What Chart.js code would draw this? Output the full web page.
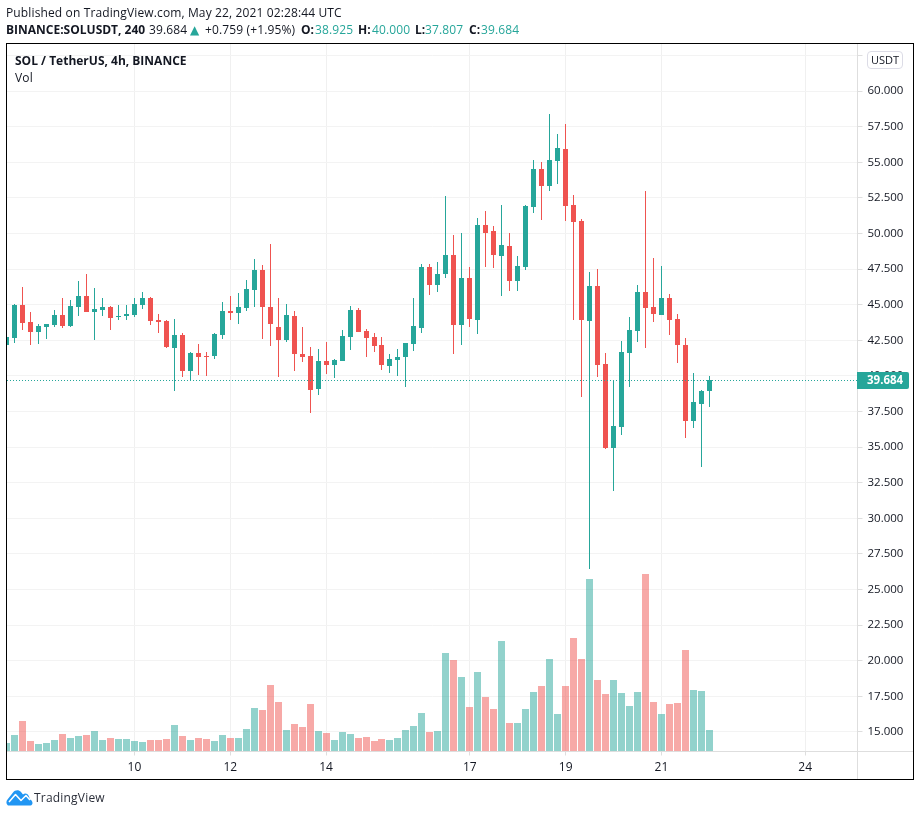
<!DOCTYPE html>
<html>
<head>
<meta charset="utf-8">
<style>
html,body{margin:0;padding:0;background:#fff;width:920px;height:816px;overflow:hidden}
body{position:relative;font-family:"Open Sans",sans-serif;color:#131722}
canvas{position:absolute;left:0;top:0}
.t{position:absolute;white-space:nowrap;font-size:12px;line-height:16px;letter-spacing:0.13px}
.b{font-weight:700;letter-spacing:0}
.g{color:#26a69a}
#usdt{position:absolute;left:867px;top:51px;width:34px;height:16px;border:1px solid #dcdce6;border-radius:4px;text-align:center;font-size:11px;line-height:16px;color:#131722;background:#fff}
</style>
</head>
<body>
<canvas id="c" width="920" height="816"></canvas>
<div class="t" style="left:6px;top:5px">Published on TradingView.com, May 22, 2021 02:28:44 UTC</div>
<div class="t b" style="left:6px;top:22px">BINANCE:SOLUSDT, 240</div>
<div class="t" style="left:149px;top:22px">39.684</div>
<div class="t g" style="left:190px;top:22px;font-family:'DejaVu Sans';font-size:12px">▲</div>
<div class="t" style="left:205px;top:22px">+0.759 (+1.95%)</div>
<div class="t b" style="left:301px;top:22px">O:</div><div class="t g" style="left:315px;top:22px">38.925</div>
<div class="t b" style="left:358px;top:22px">H:</div><div class="t g" style="left:372px;top:22px">40.000</div>
<div class="t b" style="left:415px;top:22px">L:</div><div class="t g" style="left:425px;top:22px">37.807</div>
<div class="t b" style="left:469px;top:22px">C:</div><div class="t g" style="left:481px;top:22px">39.684</div>
<div class="t b" style="left:15px;top:53px">SOL / TetherUS, 4h, BINANCE</div>
<div class="t" style="left:15px;top:70px">Vol</div>
<div id="usdt">USDT</div>
<svg style="position:absolute;left:6px;top:789px" width="27" height="17" viewBox="0 0 27 17">
<path d="M2 16.5 C0 15 0 12 1.5 10.5 L7 3.5 C9 0.5 13 0.5 15 3 L17 5.5 C19 3.5 22 4.5 23 7.5 L24 10.5 C27 11.5 27.5 16 24.5 16.5 Z" fill="#2196f3"/>
<path d="M3 13 L9.5 5.5 L15 11.5 L20 6.5 L24 11" fill="none" stroke="#fff" stroke-width="1.5" stroke-linejoin="round"/>
</svg>
<div class="t" style="left:34px;top:790px;color:#2a2e39;letter-spacing:0.2px">TradingView</div>
<script src="https://cdn.jsdelivr.net/npm/chart.js@4/dist/chart.umd.min.js"></script>
<script>
const opens=[42.17,42.66,44.98,43.78,43.08,43.43,43.57,44.27,43.50,44.84,45.61,44.49,44.63,44.84,44.13,44.20,44.27,44.98,45.47,43.92,43.85,41.96,42.87,40.34,41.61,41.40,41.40,42.87,44.56,44.41,44.76,46.03,47.43,44.84,43.43,42.52,44.20,41.54,41.40,39.08,41.04,40.76,41.04,42.73,44.62,43.15,42.73,42.17,40.69,41.11,41.33,42.24,43.36,47.64,46.38,47.15,48.49,43.57,46.87,43.92,50.59,50.17,48.42,49.12,46.66,47.64,51.86,54.52,53.33,55.08,55.93,52.00,50.87,43.85,46.31,40.83,34.94,36.41,41.61,43.15,45.89,44.84,44.27,45.47,43.99,42.17,36.83,38.03,38.925];
const highs=[42.73,45.05,46.24,44.49,43.64,43.64,44.63,45.47,45.33,46.66,47.15,46.17,45.47,44.91,44.98,44.98,45.47,45.89,45.54,44.34,43.92,43.99,43.01,41.68,42.24,41.68,43.01,45.19,45.61,45.82,46.73,48.21,47.78,49.26,45.47,45.05,44.55,43.43,42.03,41.89,42.38,41.18,43.22,44.91,44.76,43.29,43.01,42.73,41.54,41.89,42.31,45.47,47.85,47.85,47.99,52.63,49.89,50.03,47.64,51.08,51.57,50.52,51.99,50.03,48.42,52.00,55.16,55.02,58.39,56.98,57.68,52.70,51.01,47.29,47.50,41.61,39.71,42.45,44.13,46.38,52.98,48.28,47.71,45.75,44.34,42.66,40.20,39.01,40.000];
const lows=[42.17,42.31,43.22,42.17,42.24,42.59,43.43,43.36,43.43,44.20,44.49,42.52,44.20,43.22,43.92,43.92,44.13,44.70,43.57,43.01,41.96,38.94,39.92,39.64,40.06,39.99,41.19,42.59,43.92,43.64,44.55,44.84,42.59,42.10,39.92,42.38,40.34,40.97,37.39,38.66,40.13,39.85,41.04,41.82,43.08,41.33,41.68,40.41,40.20,39.99,39.22,41.75,43.01,45.68,45.89,46.87,41.54,42.17,43.43,42.94,47.64,47.57,45.61,45.96,45.96,47.43,51.43,50.94,52.98,53.47,50.87,43.92,38.52,26.44,39.92,34.87,31.92,35.85,39.22,42.38,41.96,43.78,44.27,42.87,40.90,35.64,36.34,33.60,37.807];
const closes=[42.73,44.98,43.71,43.08,43.50,43.64,44.27,43.50,44.91,45.61,44.49,44.70,44.84,44.06,44.20,44.34,45.05,45.47,43.85,43.78,42.03,42.87,40.34,41.61,41.33,41.33,42.94,44.56,44.41,44.84,46.10,47.43,44.84,43.64,42.52,44.27,41.54,41.33,39.01,41.04,40.76,41.11,42.80,44.62,43.08,42.66,42.10,40.76,41.18,41.33,42.31,43.50,47.64,46.38,47.15,48.49,43.57,46.87,43.99,50.59,50.03,48.49,49.19,46.66,47.71,51.93,54.52,53.33,55.16,55.99,51.93,50.80,43.92,46.31,40.76,34.94,36.48,41.68,43.22,45.89,44.77,44.34,45.47,43.92,42.17,36.83,38.17,38.94,39.684];
const volumes=[24,48,90,30,21,24,33,51,39,45,48,60,33,39,36,36,30,27,33,33,36,78,45,33,39,36,30,48,39,39,66,129,123,198,147,63,81,72,141,60,54,33,57,51,39,42,30,36,33,39,63,75,114,57,60,294,273,222,132,237,162,126,330,84,84,126,177,195,276,111,195,339,276,516,213,171,213,174,135,177,531,147,111,141,144,303,183,180,63];
const priceTicks=[15,17.5,20,22.5,25,27.5,30,32.5,35,37.5,40,42.5,45,47.5,50,52.5,55,57.5,60,62.5];
const dayLabels=["10","12","14","17","19","21","24"];
const dayCandles=[16,28,40,58,70,82,100];
const lastPrice=39.684;

const UP="#26a69a",DOWN="#ef5350",UPV="rgba(38,166,154,0.5)",DOWNV="rgba(239,83,80,0.5)";
const XMIN=0.0376,XMAX=106.549,YMIN=13.63,YMAX=63.30;
const isUp=i=>closes[i]>=opens[i];
const idx=opens.map((_,i)=>i);

const snap={id:'snap',afterDatasetsUpdate(chart){
  chart.data.datasets.forEach((ds,d)=>{
    const meta=chart.getDatasetMeta(d);
    if(ds.type==='line'){meta.data.forEach(p=>{p.y=Math.floor(p.y)+0.5});return;}
    meta.data.forEach(b=>{
      b.x=Math.floor(b.x)+0.5;
      let top=Math.round(b.y),bot=Math.round(b.base);
      if(top===bot)top=bot-1;
      b.y=top;b.base=bot;b.height=bot-top;
    });
  });
}};
const chrome={id:'chrome',afterDraw(chart){
  const c=chart.ctx,yS=chart.scales.y;
  c.save();
  c.strokeStyle="#dedede";c.lineWidth=1;
  c.beginPath();c.moveTo(857.5,44);c.lineTo(857.5,779);c.moveTo(7,751.5);c.lineTo(913,751.5);c.stroke();
  const py=Math.floor(yS.getPixelForValue(lastPrice))+0.5;
  c.fillStyle=UP;c.beginPath();c.roundRect(857,py-8.5,52,17,[0,2,2,0]);c.fill();
  c.fillStyle="#fff";c.font='700 11.5px "Open Sans"';c.textAlign="left";c.textBaseline="middle";
  c.fillText(lastPrice.toFixed(3),867,py+0.5);
  c.strokeStyle="#000";c.strokeRect(6.5,43.5,907,736);
  c.restore();
}};

new Chart(document.getElementById('c'),{
  data:{datasets:[
    {type:'line',label:'Last',data:[{x:XMIN,y:lastPrice},{x:XMAX,y:lastPrice}],borderColor:UP,borderWidth:1,borderDash:[1,2],pointRadius:0,yAxisID:'y',order:0},
    {type:'bar',label:'Body',data:idx.map(i=>({x:i,y:[opens[i],closes[i]]})),backgroundColor:idx.map(i=>isUp(i)?UP:DOWN),barThickness:5,yAxisID:'y',order:1},
    {type:'bar',label:'Wick',data:idx.map(i=>({x:i,y:[lows[i],highs[i]]})),backgroundColor:idx.map(i=>isUp(i)?UP:DOWN),barThickness:1,yAxisID:'y',order:2},
    {type:'bar',label:'Vol',data:idx.map(i=>({x:i,y:volumes[i]})),backgroundColor:idx.map(i=>isUp(i)?UPV:DOWNV),barThickness:7,yAxisID:'yVol',order:3}
  ]},
  options:{
    responsive:false,animation:false,devicePixelRatio:1,
    layout:{padding:{left:7,top:44,right:0,bottom:0}},
    datasets:{bar:{grouped:false,borderWidth:0,inflateAmount:0}},
    plugins:{legend:{display:false},tooltip:{enabled:false}},
    scales:{
      x:{type:'linear',offset:false,min:XMIN,max:XMAX,
        afterBuildTicks(s){s.ticks=dayCandles.map(v=>({value:v}))},
        afterFit(s){s.height=64.5},
        grid:{offset:false,color:"#f0f0f0",lineWidth:1,tickLength:4,tickColor:"#dedede"},
        border:{display:false},
        ticks:{autoSkip:false,maxRotation:0,padding:5,color:"#131722",font:{family:'"Open Sans"',size:12},
          callback(v){const k=dayCandles.indexOf(v);return k<0?'':dayLabels[k]}}},
      y:{type:'linear',position:'right',min:YMIN,max:YMAX,
        afterBuildTicks(s){s.ticks=priceTicks.map(v=>({value:v}))},
        afterFit(s){s.width=62.5},
        grid:{color:"#f3f3f3",lineWidth:1,tickLength:5,tickColor:"#dedede"},
        border:{display:false},
        ticks:{autoSkip:false,padding:5,color:"#131722",font:{family:'"Open Sans"',size:11.5},
          callback(v){return v===62.5?'':v.toFixed(3)}}},
      yVol:{type:'linear',display:false,min:0,max:2122}
    }
  },
  plugins:[snap,chrome]
});
</script>
</body>
</html>
